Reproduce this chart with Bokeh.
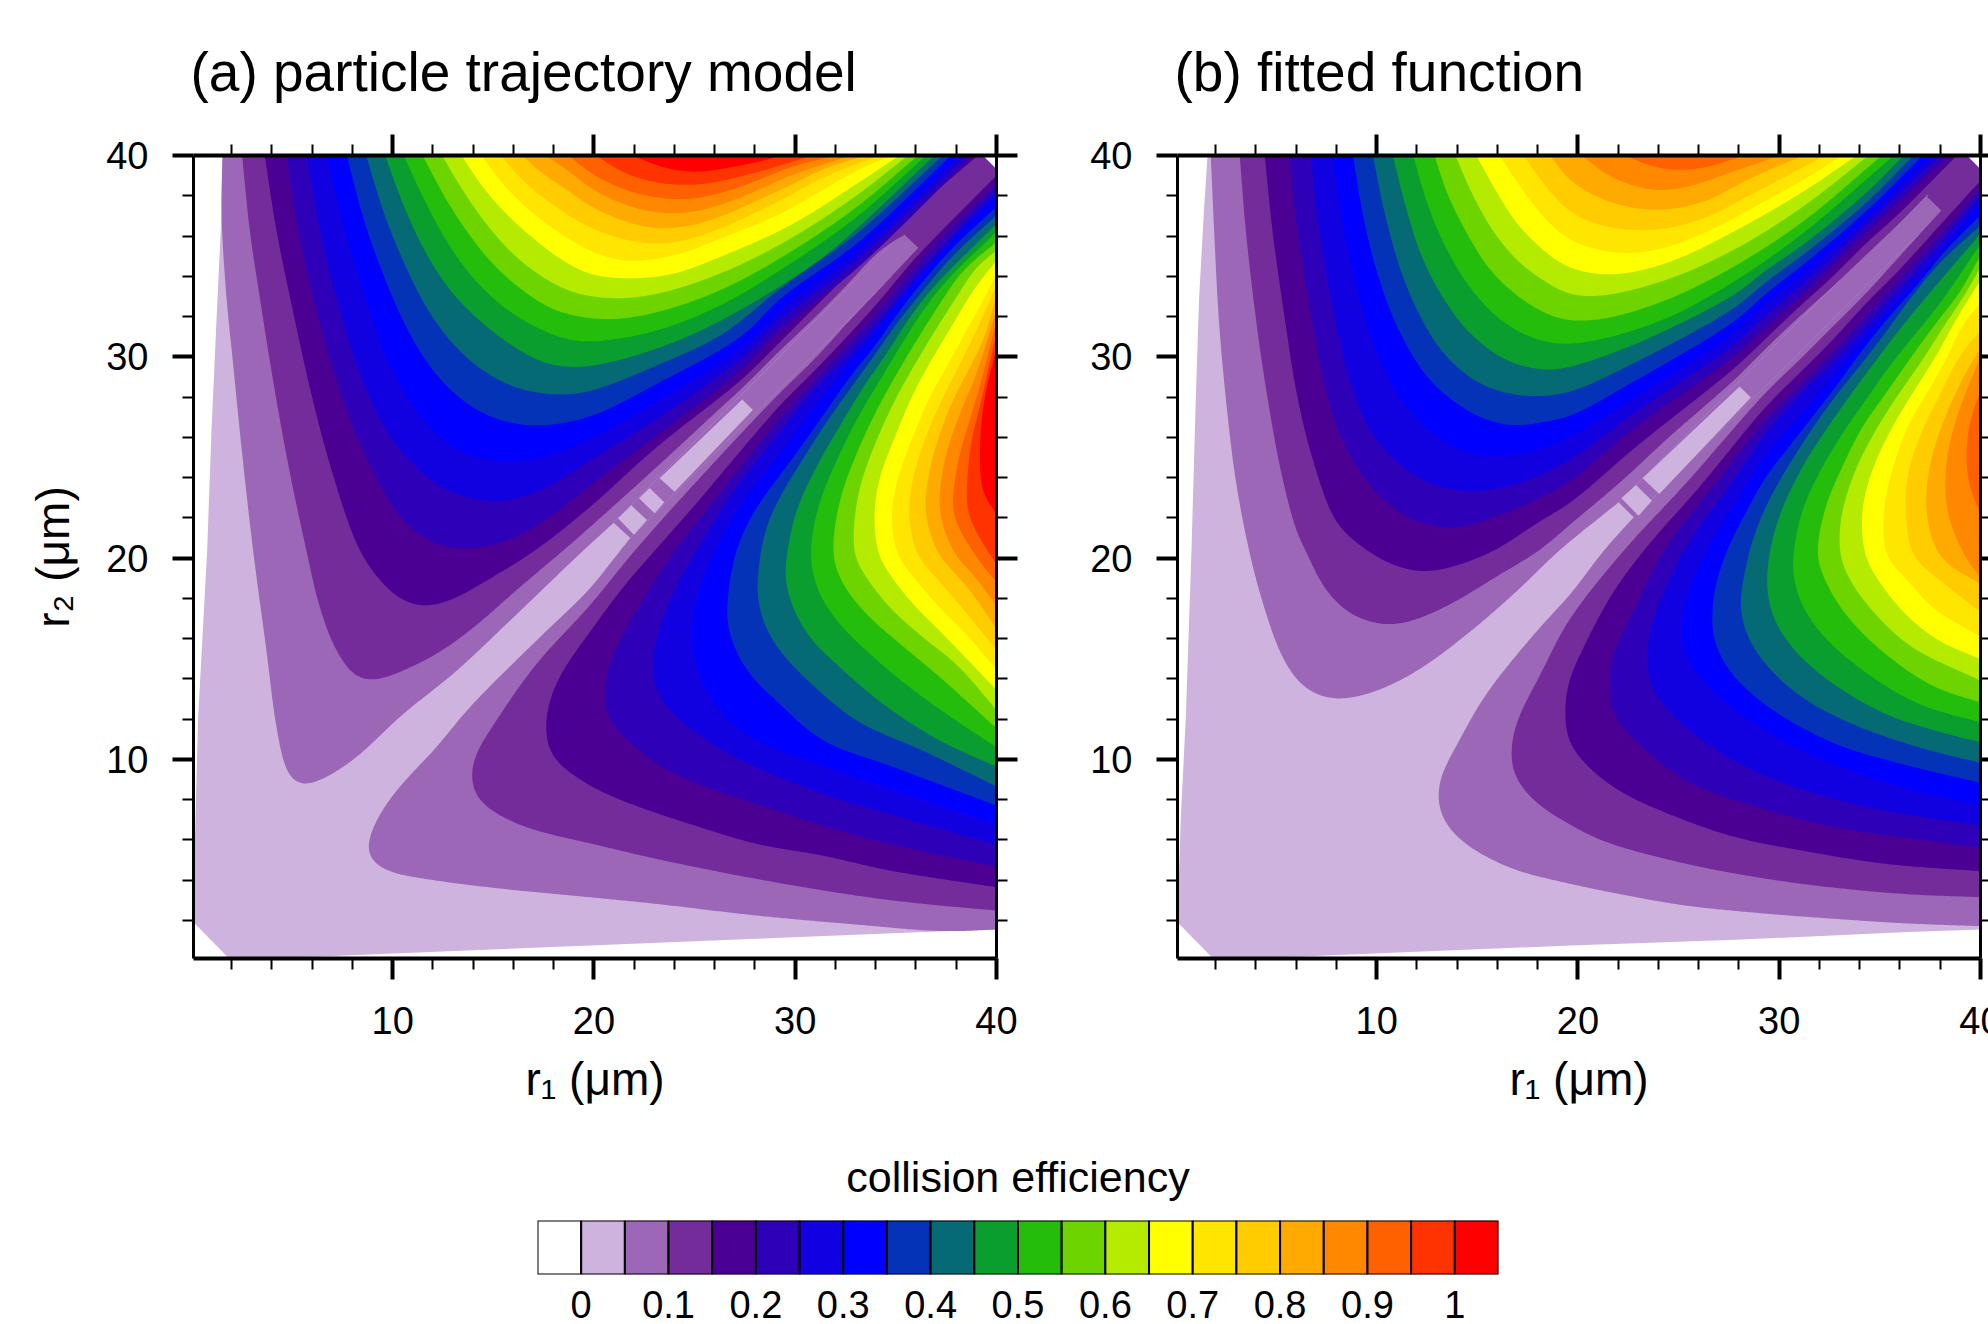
import numpy as np
from bokeh.embed import file_html
from bokeh.layouts import column, row
from bokeh.models import FixedTicker, LinearAxis, Range1d, Title
from bokeh.plotting import figure
from bokeh.resources import INLINE

# ---- colour scale -------------------------------------------------------
LEVEL_EDGES = [-0.05, 0, 0.05, 0.1, 0.15, 0.2, 0.25, 0.3, 0.35, 0.4, 0.45, 0.5, 0.55, 0.6, 0.65, 0.7,
               0.75, 0.8, 0.85, 0.9, 0.95, 1.0, 1.05]
COLORS = ["#FFFFFF", "#CDB3DD", "#9B67B6", "#752C9B", "#4B0093", "#2E00B8", "#1100E0", "#0000FF", "#0533B8",
          "#056A73", "#0A9E2E", "#25BD0B", "#6DD400", "#B4EB00", "#FFFF00", "#FFE600", "#FFCC00", "#FFAA00",
          "#FF8800", "#FF6000", "#FF3300", "#FF0000"]
BAR_TICKS = [0, 0.1, 0.2, 0.3, 0.4, 0.5, 0.6, 0.7, 0.8, 0.9, 1.0]
BAR_LABELS = ["0", "0.1", "0.2", "0.3", "0.4", "0.5", "0.6", "0.7", "0.8", "0.9", "1"]
MAJOR = [10, 20, 30, 40]
MINOR = [2, 4, 6, 8, 12, 14, 16, 18, 22, 24, 26, 28, 32, 34, 36, 38]

# ---- contour outlines: (r1, r2) in steps of 1/60.4 um --
STEP = 60.4

A_OUTER = [(93,2414),(90,2240),(75,1920),(60,1590),(47,1230),(20,730),(10,350),(6,115),(113,6),(385,12),(1195,45),(1695,65),(2255,88),(2416,93),(2416,2375),(2375,2416)]
A_BAND = [(1267,1314),(1317,1268),(2300,2250),(2250,2300)]
A_BOXES = [[(1653,1684),(1685,1652),(1450,1407),(1405,1447)],
           [(1375,1418),(1419,1375),(1390,1342),(1343,1387)],
           [(1320,1366),(1367,1322),(1328,1278),(1280,1327)]]
A_UP_TAILS = {2: [(2340,2390),(2340,2416)], 3: [(2200,2200),(2375,2416)]}
A_LOW_TAILS = {2: [(2390,2340),(2416,2340)], 3: [(2140,2178),(2375,2416),(2416,2375)]}

A_UP_02 = [(93,2414),(90,2240),(105,1990),(125,1790),(150,1540),(185,1230),(225,930),(255,700),(285,570),(310,532),(340,525),(405,550),(495,610),(635,740),(785,860),(935,1000),(1175,1230),(1217,1268),(1267,1314)]
A_UP_03 = [(152,2414),(175,2190),(205,1990),(245,1740),(290,1490),(345,1230),(385,1060),(435,930),(495,850),(545,840),(635,870),(735,920),(835,990),(985,1120),(1115,1230),(1195,1300),(1395,1480),(1595,1665),(1653,1718),(1766,1831),(1866,1925),(1966,2026),(2066,2131),(2141,2179)]
A_UP_04 = [(220,2414),(255,2190),(300,1970),(355,1720),(415,1490),(505,1230),(575,1130),(635,1080),(695,1063),(775,1080),(885,1140),(1030,1230),(1195,1360),(1395,1540),(1653,1745),(1766,1856),(1866,1956),(1966,2056),(2066,2161),(2360,2416)]
A_UP_05 = [(285,2414),(320,2190),(365,1990),(435,1740),(515,1530),(635,1320),(735,1250),(815,1235),(935,1255),(1035,1305),(1115,1360),(1195,1425),(1395,1575),(1653,1775),(1766,1891),(1995,2075),(2345,2416)]
A_UP_06 = [(347,2414),(385,2190),(435,1990),(495,1790),(585,1590),(695,1460),(795,1400),(905,1378),(1035,1405),(1195,1500),(1395,1625),(1653,1808),(1766,1921),(1995,2100),(2325,2416)]
A_UP_07 = [(407,2414),(455,2210),(515,2010),(585,1810),(675,1650),(785,1540),(885,1505),(975,1498),(1085,1520),(1195,1565),(1395,1675),(1653,1840),(1766,1951),(1995,2125),(2305,2416)]
A_UP_08 = [(467,2414),(515,2230),(575,2060),(645,1900),(725,1770),(815,1680),(915,1625),(1035,1605),(1195,1632),(1395,1730),(1653,1875),(1766,1986),(1995,2150),(2280,2416)]
A_UP_09 = [(525,2414),(575,2250),(635,2100),(705,1960),(785,1850),(875,1770),(985,1715),(1115,1698),(1195,1708),(1395,1785),(1595,1880),(1766,2016),(1995,2180),(2255,2416)]
A_UP_10 = [(582,2414),(635,2270),(705,2120),(785,2000),(865,1920),(955,1850),(1055,1795),(1155,1780),(1295,1805),(1495,1875),(1695,1980),(1895,2110),(1995,2195),(2230,2416)]
A_UP_11 = [(638,2414),(700,2280),(765,2160),(835,2060),(925,1970),(1025,1905),(1135,1862),(1215,1858),(1395,1890),(1595,1970),(1795,2090),(1995,2230),(2205,2416)]
A_UP_12 = [(695,2414),(755,2300),(825,2190),(905,2090),(995,2010),(1095,1950),(1245,1924),(1395,1945),(1595,2015),(1795,2125),(1995,2260),(2180,2416)]
A_UP_13 = [(753,2414),(815,2310),(885,2210),(965,2120),(1055,2050),(1145,2005),(1265,1987),(1395,2000),(1595,2065),(1795,2165),(1995,2295),(2150,2416)]
A_UP_14 = [(812,2414),(875,2320),(955,2230),(1035,2160),(1115,2100),(1195,2060),(1305,2047),(1445,2060),(1595,2115),(1795,2205),(1995,2330),(2125,2416)]
A_UP_15 = [(872,2414),(935,2330),(1015,2250),(1095,2190),(1195,2130),(1295,2100),(1395,2105),(1495,2130),(1595,2170),(1766,2240),(1995,2370),(2100,2416)]
A_UP_16 = [(930,2414),(995,2340),(1075,2275),(1195,2200),(1295,2165),(1395,2150),(1495,2165),(1595,2200),(1766,2280),(1895,2350),(2065,2416)]
A_UP_17 = [(995,2414),(1055,2360),(1125,2315),(1195,2265),(1295,2220),(1395,2197),(1495,2205),(1595,2235),(1695,2280),(1795,2325),(1895,2375),(2025,2416)]
A_UP_18 = [(1065,2414),(1125,2375),(1195,2320),(1295,2270),(1395,2245),(1495,2245),(1595,2270),(1695,2310),(1795,2355),(1980,2416)]
A_UP_19 = [(1135,2414),(1195,2365),(1295,2315),(1395,2290),(1495,2285),(1595,2305),(1695,2340),(1795,2380),(1930,2416)]
A_UP_20 = [(1215,2416),(1295,2365),(1395,2335),(1495,2327),(1595,2340),(1695,2365),(1795,2395),(1865,2416)]
A_UP_21 = [(1325,2416),(1415,2380),(1515,2366),(1615,2380),(1715,2400),(1775,2416)]

A_LOW_02 = [(2416,93),(2255,88),(1995,108),(1695,135),(1395,170),(1195,190),(935,215),(735,240),(585,270),(535,305),(527,340),(555,420),(615,510),(735,640),(835,760),(1035,960),(1195,1115),(1255,1190),(1317,1268)]
A_LOW_03 = [(2416,150),(2195,170),(1995,195),(1695,245),(1395,305),(1195,352),(1035,390),(935,430),(860,485),(840,540),(850,610),(915,720),(1035,890),(1195,1065),(1330,1230),(1495,1415),(1766,1704),(1866,1801),(1966,1911),(2066,2016),(2181,2139)]
A_LOW_04 = [(2416,220),(2095,270),(1895,315),(1695,350),(1495,410),(1345,460),(1245,500),(1195,525),(1085,610),(1063,690),(1075,780),(1115,870),(1195,985),(1295,1120),(1390,1230),(1505,1360),(1766,1666),(1866,1766),(1966,1871),(2066,1981),(2166,2101),(2416,2356)]
A_LOW_05 = [(2416,282),(2095,350),(1895,405),(1695,470),(1545,520),(1395,590),(1295,675),(1255,720),(1238,800),(1255,890),(1295,980),(1365,1100),(1450,1230),(1545,1350),(1766,1626),(1866,1736),(1966,1841),(2066,1951),(2166,2071),(2266,2181),(2416,2329)]
A_LOW_06 = [(2416,348),(2095,440),(1895,500),(1695,580),(1595,630),(1455,730),(1400,800),(1383,870),(1395,960),(1435,1080),(1515,1230),(1620,1400),(1766,1586),(1866,1711),(1966,1811),(2066,1921),(2156,2031),(2246,2131),(2336,2231),(2416,2311)]
A_LOW_07 = [(2416,408),(2095,515),(1895,585),(1695,660),(1595,740),(1535,830),(1500,965),(1512,1070),(1565,1220),(1650,1370),(1766,1521),(1846,1631),(1926,1731),(2006,1831),(2086,1931),(2166,2031),(2246,2121),(2336,2216),(2416,2296)]
A_LOW_08 = [(2416,465),(2095,585),(1895,660),(1755,780),(1675,860),(1625,950),(1607,1025),(1612,1110),(1635,1230),(1690,1350),(1766,1456),(1836,1551),(1906,1651),(1976,1751),(2056,1851),(2126,1951),(2206,2051),(2296,2151),(2416,2261)]
A_LOW_09 = [(2416,522),(2195,630),(1995,720),(1845,845),(1765,930),(1715,1020),(1698,1105),(1705,1200),(1725,1300),(1766,1391),(1826,1491),(1896,1601),(1966,1701),(2046,1811),(2116,1911),(2196,2011),(2286,2116),(2416,2236)]
A_LOW_10 = [(2416,582),(2245,660),(2075,770),(1935,890),(1855,970),(1805,1060),(1782,1145),(1786,1211),(1816,1351),(1886,1501),(1956,1621),(2016,1721),(2086,1821),(2156,1931),(2236,2031),(2416,2211)]
A_LOW_11 = [(2416,640),(2295,720),(2155,820),(2025,930),(1945,1010),(1885,1100),(1858,1211),(1881,1361),(1941,1511),(2006,1641),(2066,1741),(2126,1841),(2196,1951),(2276,2051),(2416,2186)]
A_LOW_12 = [(2416,697),(2235,860),(2115,960),(2025,1040),(1955,1130),(1926,1211),(1946,1381),(1996,1521),(2056,1651),(2111,1751),(2176,1861),(2246,1971),(2316,2071),(2416,2156)]
A_LOW_13 = [(2416,752),(2295,890),(2195,970),(2095,1060),(2025,1150),(1991,1211),(1988,1301),(2006,1421),(2056,1561),(2111,1681),(2166,1781),(2226,1881),(2296,1991),(2356,2081),(2416,2131)]
A_LOW_14 = [(2416,812),(2255,980),(2165,1070),(2095,1160),(2064,1211),(2049,1341),(2066,1451),(2111,1571),(2166,1701),(2226,1811),(2286,1911),(2346,2011),(2416,2101)]
A_LOW_15 = [(2416,873),(2325,980),(2235,1070),(2160,1160),(2121,1211),(2101,1341),(2121,1451),(2161,1561),(2206,1671),(2266,1781),(2326,1891),(2376,1981),(2416,2061)]
A_LOW_16 = [(2416,932),(2295,1080),(2225,1160),(2181,1211),(2153,1341),(2166,1451),(2196,1551),(2246,1671),(2296,1771),(2356,1891),(2416,2026)]
A_LOW_17 = [(2416,995),(2345,1100),(2285,1170),(2246,1211),(2203,1341),(2211,1451),(2236,1551),(2276,1661),(2326,1761),(2376,1861),(2416,1996)]
A_LOW_18 = [(2416,1065),(2345,1160),(2296,1211),(2246,1341),(2251,1451),(2271,1541),(2306,1641),(2356,1761),(2416,1956)]
A_LOW_19 = [(2416,1135),(2356,1211),(2286,1341),(2291,1441),(2311,1541),(2336,1621),(2376,1761),(2416,1921)]
A_LOW_20 = [(2416,1190),(2401,1211),(2331,1341),(2329,1451),(2341,1561),(2366,1661),(2416,1886)]
A_LOW_21 = [(2416,1341),(2376,1401),(2366,1521),(2376,1661),(2396,1761),(2416,1836)]

B_OUTER = [(96,2414),(86,2260),(71,1990),(61,1690),(48,1230),(31,730),(16,430),(6,115),(113,6),(376,12),(1186,45),(1680,62),(2180,85),(2416,93),(2416,2375),(2375,2416)]
B_BAND = [(1330,1375),(1375,1330),(2300,2250),(2250,2300)]
B_BOXES = [[(1338,1387),(1382,1427),(1430,1380),(1390,1335)],
           [(1402,1447),(1693,1723),(1727,1690),(1452,1400)]]
B_UP_TAILS = {2: [(2340,2390),(2340,2416)], 3: [(2320,2300),(2375,2416)]}
B_LOW_TAILS = {2: [(2390,2340),(2416,2340)], 3: [(2255,2293),(2375,2416),(2416,2375)]}

B_UP_02 = [(106,2414),(116,2190),(131,1910),(156,1640),(181,1440),(221,1230),(266,1060),(326,900),(386,820),(446,790),(506,785),(606,810),(726,870),(876,980),(1026,1110),(1151,1230),(1330,1375)]
B_UP_03 = [(193,2414),(211,2190),(246,1890),(276,1690),(316,1470),(366,1280),(391,1230),(446,1120),(526,1040),(641,1007),(726,1025),(826,1070),(976,1160),(1091,1230),(1180,1305),(1340,1440),(1480,1570),(1680,1745),(1771,1836),(1871,1931),(1971,2021),(2071,2116),(2171,2211),(2254,2296)]
B_UP_04 = [(268,2414),(291,2190),(326,1940),(366,1690),(416,1490),(486,1310),(576,1230),(646,1190),(736,1167),(826,1180),(956,1230),(1096,1320),(1180,1370),(1380,1540),(1680,1780),(1771,1866),(1871,1961),(1971,2051),(2071,2151),(2171,2241),(2345,2416)]
B_UP_05 = [(340,2414),(366,2190),(406,1940),(456,1690),(516,1530),(606,1400),(706,1325),(836,1298),(956,1330),(1076,1380),(1180,1435),(1380,1600),(1680,1815),(1771,1901),(1880,1995),(2080,2190),(2320,2416)]
B_UP_06 = [(406,2414),(431,2190),(476,1940),(526,1730),(596,1570),(696,1470),(796,1420),(906,1408),(1026,1430),(1180,1500),(1380,1645),(1680,1850),(1771,1936),(1880,2025),(2080,2215),(2295,2416)]
B_UP_07 = [(471,2414),(501,2210),(546,2010),(606,1820),(686,1670),(786,1570),(876,1525),(956,1512),(1076,1530),(1180,1570),(1380,1690),(1680,1885),(1771,1971),(1880,2055),(2080,2235),(2270,2416)]
B_UP_08 = [(533,2414),(566,2220),(616,2030),(676,1880),(756,1750),(846,1670),(926,1625),(1016,1605),(1126,1620),(1180,1632),(1380,1740),(1680,1920),(1771,2001),(1880,2085),(2080,2255),(2242,2416)]
B_UP_09 = [(593,2414),(626,2250),(676,2070),(736,1930),(806,1820),(906,1735),(1006,1700),(1086,1693),(1180,1705),(1380,1795),(1680,1960),(1771,2036),(1880,2115),(2080,2280),(2215,2416)]
B_UP_10 = [(653,2414),(686,2280),(736,2120),(796,2000),(876,1890),(976,1810),(1056,1780),(1126,1772),(1180,1780),(1380,1850),(1680,2000),(1771,2071),(1880,2145),(2080,2310),(2185,2416)]
B_UP_11 = [(714,2414),(756,2270),(806,2150),(876,2030),(966,1930),(1066,1870),(1156,1850),(1280,1865),(1480,1930),(1680,2040),(1880,2180),(2080,2350),(2155,2416)]
B_UP_12 = [(778,2414),(816,2300),(876,2180),(946,2070),(1046,1980),(1156,1925),(1280,1925),(1480,1985),(1680,2085),(1880,2215),(2120,2416)]
B_UP_13 = [(841,2414),(886,2310),(946,2200),(1026,2100),(1106,2040),(1180,2000),(1280,1995),(1480,2045),(1680,2135),(1880,2260),(2080,2416)]
B_UP_14 = [(904,2414),(956,2320),(1026,2210),(1106,2130),(1180,2080),(1310,2058),(1480,2095),(1680,2190),(1880,2305),(2045,2416)]
B_UP_15 = [(974,2414),(1036,2320),(1106,2230),(1180,2165),(1310,2125),(1430,2130),(1580,2180),(1780,2285),(1880,2340),(2000,2416)]
B_UP_16 = [(1046,2414),(1106,2330),(1180,2250),(1280,2205),(1430,2192),(1580,2225),(1730,2300),(1950,2416)]
B_UP_17 = [(1126,2414),(1180,2345),(1280,2285),(1430,2252),(1580,2275),(1730,2350),(1885,2416)]
B_UP_18 = [(1220,2416),(1300,2355),(1430,2312),(1530,2320),(1680,2370),(1815,2416)]
B_UP_19 = [(1350,2416),(1440,2380),(1530,2372),(1610,2385),(1705,2416)]

B_LOW_02 = [(2416,103),(2180,112),(1980,125),(1780,140),(1530,165),(1330,200),(1186,230),(1026,270),(926,315),(846,370),(796,440),(788,500),(796,550),(846,650),(926,790),(1026,920),(1126,1035),(1186,1100),(1285,1230),(1375,1330)]
B_LOW_03 = [(2416,190),(2180,200),(1880,230),(1630,270),(1430,315),(1280,360),(1180,410),(1076,480),(1016,560),(1008,640),(1026,720),(1096,860),(1180,1020),(1345,1230),(1530,1430),(1771,1704),(1871,1801),(1971,1901),(2071,2001),(2171,2111),(2298,2251)]
B_LOW_04 = [(2416,268),(2130,290),(1880,330),(1680,370),(1480,440),(1330,510),(1230,590),(1180,660),(1169,750),(1180,835),(1220,930),(1310,1100),(1405,1230),(1580,1430),(1771,1661),(1871,1761),(1971,1861),(2071,1971),(2171,2071),(2271,2181),(2416,2341)]
B_LOW_05 = [(2416,338),(2180,370),(1980,400),(1680,480),(1530,540),(1380,660),(1315,740),(1300,820),(1310,910),(1370,1040),(1465,1230),(1620,1430),(1771,1621),(1871,1721),(1971,1821),(2071,1931),(2171,2041),(2291,2171),(2416,2316)]
B_LOW_06 = [(2416,405),(2080,460),(1780,550),(1580,660),(1480,750),(1425,830),(1415,910),(1430,1010),(1525,1230),(1660,1420),(1771,1581),(1871,1696),(1971,1791),(2071,1901),(2171,2011),(2291,2146),(2416,2296)]
B_LOW_07 = [(2416,468),(2180,520),(1880,630),(1710,730),(1590,830),(1530,920),(1518,1005),(1540,1110),(1595,1230),(1690,1390),(1771,1516),(1871,1631),(1971,1751),(2071,1871),(2171,1981),(2291,2111),(2416,2281)]
B_LOW_08 = [(2416,533),(2180,590),(1980,650),(1780,760),(1670,860),(1620,950),(1610,1015),(1620,1120),(1655,1230),(1720,1360),(1771,1451),(1841,1541),(1911,1631),(1981,1721),(2061,1831),(2141,1931),(2221,2021),(2311,2131),(2416,2236)]
B_LOW_09 = [(2416,593),(2230,640),(2030,710),(1880,790),(1770,890),(1710,990),(1695,1080),(1710,1170),(1725,1240),(1771,1361),(1831,1471),(1901,1581),(1971,1681),(2051,1781),(2121,1871),(2201,1981),(2291,2091),(2416,2206)]
B_LOW_10 = [(2416,655),(2280,690),(2130,740),(1960,840),(1850,940),(1790,1040),(1775,1130),(1781,1211),(1811,1331),(1881,1481),(1951,1591),(2021,1691),(2091,1786),(2171,1891),(2261,2001),(2416,2181)]
B_LOW_11 = [(2416,715),(2230,770),(2050,880),(1930,990),(1870,1090),(1852,1180),(1853,1211),(1881,1351),(1936,1471),(2001,1581),(2071,1681),(2141,1781),(2221,1881),(2301,1981),(2416,2151)]
B_LOW_12 = [(2416,775),(2280,820),(2130,920),(2010,1040),(1950,1140),(1926,1211),(1951,1361),(2001,1481),(2061,1601),(2131,1701),(2201,1801),(2281,1911),(2351,2001),(2416,2116)]
B_LOW_13 = [(2416,840),(2210,940),(2100,1040),(2025,1140),(1996,1211),(1996,1321),(2036,1461),(2101,1591),(2171,1701),(2241,1801),(2311,1911),(2371,2001),(2416,2081)]
B_LOW_14 = [(2416,905),(2290,960),(2190,1040),(2110,1140),(2071,1211),(2061,1351),(2091,1471),(2146,1591),(2211,1701),(2281,1811),(2341,1921),(2416,2041)]
B_LOW_15 = [(2416,972),(2270,1060),(2190,1150),(2135,1211),(2126,1351),(2151,1471),(2201,1611),(2261,1711),(2311,1801),(2371,1921),(2416,1971)]
B_LOW_16 = [(2416,1045),(2270,1160),(2215,1211),(2191,1351),(2196,1451),(2241,1591),(2301,1711),(2351,1811),(2416,1891)]
B_LOW_17 = [(2416,1130),(2295,1211),(2253,1351),(2261,1471),(2291,1581),(2331,1681),(2381,1781),(2416,1836)]
B_LOW_18 = [(2416,1150),(2370,1211),(2316,1351),(2314,1501),(2336,1601),(2366,1691),(2416,1811)]
B_LOW_19 = [(2416,1341),(2381,1431),(2374,1531),(2383,1611),(2416,1711)]

FONT = "Liberation Sans"


def smooth(points, n=8):
    """Round the corners of a read-off outline: a centripetal spline through its vertices, lightly low-passed."""
    P = np.array(points, dtype=float)
    if len(P) < 3:
        return P
    P = np.vstack([2 * P[0] - P[1], P, 2 * P[-1] - P[-2]])
    out = [P[1]]
    for i in range(1, len(P) - 2):
        p0, p1, p2, p3 = P[i - 1], P[i], P[i + 1], P[i + 2]
        t0 = 0.0
        t1 = t0 + np.linalg.norm(p1 - p0) ** 0.5 + 1e-6
        t2 = t1 + np.linalg.norm(p2 - p1) ** 0.5 + 1e-6
        t3 = t2 + np.linalg.norm(p3 - p2) ** 0.5 + 1e-6
        for t in np.linspace(t1, t2, n + 1)[1:]:
            a1 = (t1 - t) / (t1 - t0) * p0 + (t - t0) / (t1 - t0) * p1
            a2 = (t2 - t) / (t2 - t1) * p1 + (t - t1) / (t2 - t1) * p2
            a3 = (t3 - t) / (t3 - t2) * p2 + (t - t2) / (t3 - t2) * p3
            b1 = (t2 - t) / (t2 - t0) * a1 + (t - t0) / (t2 - t0) * a2
            b2 = (t3 - t) / (t3 - t1) * a2 + (t - t1) / (t3 - t1) * a3
            out.append((t2 - t) / (t2 - t1) * b1 + (t - t1) / (t2 - t1) * b2)
    return low_pass(np.array(out))


def low_pass(curve, sigma=30.0, step=6.0):
    seg = np.hypot(*np.diff(curve, axis=0).T)
    s = np.r_[0.0, np.cumsum(seg)]
    grid = np.r_[np.arange(0.0, s[-1], step), s[-1]]
    half = min(int(3 * sigma / step), len(grid) - 1)
    kernel = np.exp(-0.5 * (np.arange(-half, half + 1) * step / sigma) ** 2)
    kernel /= kernel.sum()
    result = []
    for c in range(2):
        x = np.interp(grid, s, curve[:, c])
        ext = np.r_[2 * x[0] - x[half:0:-1], x, 2 * x[-1] - x[-2:-half - 2:-1]]
        result.append(np.convolve(ext, kernel, mode="valid"))
    return np.column_stack(result)


def poly(p, pts, color):
    pts = np.asarray(pts, dtype=float) / STEP
    p.patch(pts[:, 0], pts[:, 1], fill_color=color, line_color=None)


def panel(name, title, width, left, right, ylabel):
    p = figure(width=width, height=1130, output_backend="svg", toolbar_location=None,
               x_range=Range1d(0.1, 40), y_range=Range1d(0.1, 40),
               min_border_left=left, min_border_right=right, min_border_top=155, min_border_bottom=172,
               x_axis_location=None, y_axis_location=None, outline_line_color=None)
    p.grid.visible = False
    p.title = Title(text=title, align="left", text_font=FONT, text_font_size="55px", text_font_style="normal",
                    text_color="black", standoff=64, offset=-3)
    p.background_fill_color = "white"

    poly(p, globals()[name + "_OUTER"], COLORS[1])
    up_tails = globals()[name + "_UP_TAILS"]
    low_tails = globals()[name + "_LOW_TAILS"]
    for k in range(2, 22):
        if name + f"_UP_{k:02d}" not in globals():
            continue
        for lobe, tails in (("UP", up_tails), ("LOW", low_tails)):
            curve = smooth(globals()[f"{name}_{lobe}_{k:02d}"])
            if k in tails:
                curve = np.vstack([curve, np.array(tails[k], dtype=float)])
            poly(p, curve, COLORS[k])
        if k == 2:
            poly(p, globals()[name + "_BAND"], COLORS[2])
    for box in globals()[name + "_BOXES"]:
        poly(p, box, COLORS[1])

    ticker = FixedTicker(ticks=MAJOR, minor_ticks=MINOR)
    blank = {t: "" for t in MAJOR}
    common = dict(ticker=ticker, major_tick_in=0, major_tick_out=21, minor_tick_in=0, minor_tick_out=11,
                  major_tick_line_width=4, minor_tick_line_width=2, major_tick_line_color="black",
                  minor_tick_line_color="black", axis_line_color="black", major_label_text_font=FONT,
                  major_label_text_font_size="38px", major_label_text_color="black", axis_label_text_font=FONT,
                  axis_label_text_font_size="46px", axis_label_text_font_style="normal",
                  axis_label_text_color="black")
    bottom = LinearAxis(axis_line_width=4, axis_label="r\u2081 (\u03bcm)", major_label_standoff=27,
                        axis_label_standoff=16, **common)
    leftax = LinearAxis(axis_line_width=3, axis_label=ylabel, major_label_standoff=24,
                        axis_label_standoff=24, **common)
    if not ylabel:
        leftax.axis_label = None
    top = LinearAxis(axis_line_width=4, major_label_overrides=blank, major_label_standoff=0, **common)
    top.major_label_text_font_size = "1px"
    rightax = LinearAxis(axis_line_width=3, major_label_overrides=blank, major_label_standoff=0, **common)
    rightax.major_label_text_font_size = "1px"
    p.add_layout(bottom, "below")
    p.add_layout(leftax, "left")
    p.add_layout(top, "above")
    p.add_layout(rightax, "right")
    return p


a = panel("A", "(a) particle trajectory model", 1040, 193, 44, "r\u2082 (\u03bcm)")
b = panel("B", "(b) fitted function", 965, 137, 25, None)

bar = figure(width=1988, height=205, output_backend="svg", toolbar_location=None,
             x_range=Range1d(LEVEL_EDGES[0], LEVEL_EDGES[-1]), y_range=Range1d(0, 1),
             min_border_left=537, min_border_right=490, min_border_top=90, min_border_bottom=61,
             x_axis_location=None, y_axis_location=None, outline_line_color=None)
bar.grid.visible = False
bar.title = Title(text="collision efficiency", align="center", text_font=FONT, text_font_size="43px",
                  text_font_style="normal", text_color="black", standoff=40)
bar.quad(left=LEVEL_EDGES[:-1], right=LEVEL_EDGES[1:], bottom=0, top=1, fill_color=COLORS,
         line_color="black", line_width=2)
bar.add_layout(LinearAxis(ticker=FixedTicker(ticks=BAR_TICKS), axis_line_color=None, major_tick_line_color=None,
                          major_tick_in=0, major_tick_out=0, minor_tick_line_color=None,
                          major_label_overrides={t: s for t, s in zip(BAR_TICKS, BAR_LABELS)},
                          major_label_text_font=FONT, major_label_text_font_size="38px",
                          major_label_text_color="black", major_label_standoff=16), "below")

page = column(row(a, b), bar)
html = file_html(page, INLINE)
open("out.html", "w").write(html)
